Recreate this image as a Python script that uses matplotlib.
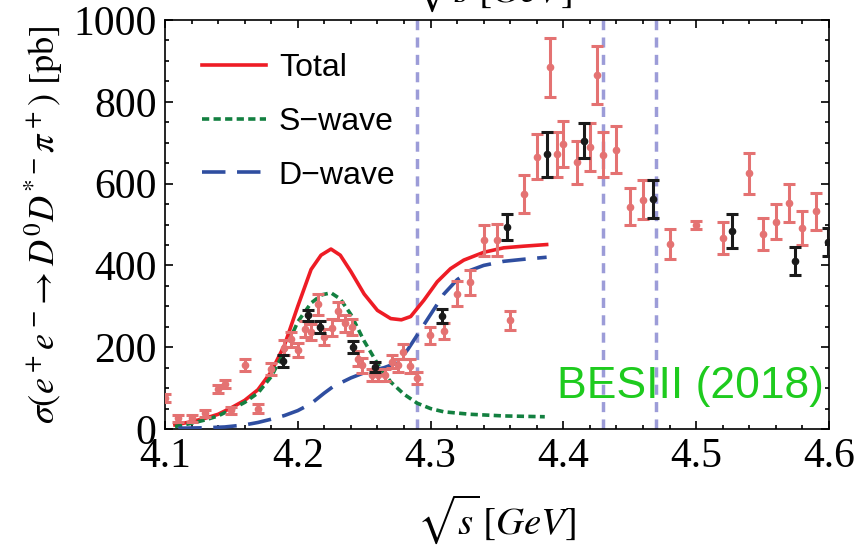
import matplotlib
matplotlib.use('Agg')
import matplotlib.pyplot as plt
from matplotlib.lines import Line2D
from matplotlib.ticker import MultipleLocator

plt.rcParams['mathtext.fontset'] = 'stix'

# BESIII scan points (red) : sqrt(s), sigma, error
scan_x = [4.100, 4.110, 4.120, 4.130, 4.140, 4.145, 4.150, 4.160, 4.170, 4.180,
          4.190, 4.195, 4.200, 4.2055, 4.210, 4.2155, 4.220, 4.2255, 4.230, 4.2356,
          4.2406, 4.2455, 4.248, 4.2556, 4.2606, 4.2657, 4.2707, 4.2757, 4.2795, 4.2845,
          4.2895, 4.2995, 4.310, 4.320, 4.330, 4.340, 4.350, 4.3598, 4.370, 4.380,
          4.390, 4.395, 4.400, 4.410, 4.420, 4.425, 4.430, 4.440, 4.450, 4.460,
          4.480, 4.500, 4.520, 4.540, 4.550, 4.560, 4.570, 4.580, 4.590]
scan_y = [75, 26, 26, 38, 97, 111, 46, 156, 50, 147,
          199, 219, 193, 244, 237, 305, 225, 248, 288, 258,
          250, 172, 156, 132, 132, 132, 164, 156, 189, 154,
          124, 229, 239, 331, 359, 461, 463, 266, 575, 666,
          885, 672, 697, 652, 689, 866, 671, 683, 544, 561,
          453, 498, 468, 625, 476, 507, 552, 491, 532]
scan_err = [10, 8, 8, 9, 10, 10, 9, 14, 10, 15,
            18, 18, 17, 20, 20, 26, 20, 20, 22, 20,
            20, 18, 18, 15, 15, 15, 16, 16, 18, 16,
            15, 20, 20, 30, 31, 39, 39, 23, 47, 55,
            72, 55, 57, 53, 58, 71, 56, 57, 45, 47,
            37, 10, 39, 50, 39, 42, 46, 41, 45]

# BESIII high-luminosity points (black)
xyz_x = [4.1886, 4.2080, 4.2171, 4.2417, 4.2580, 4.3083, 4.3578, 4.3874, 4.4155,
         4.4673, 4.5272, 4.5744, 4.5995]
xyz_y = [166, 278, 250, 201, 152, 276, 493, 672, 705, 563, 484, 410, 457]
xyz_err = [14, 14, 15, 14, 13, 18, 32, 55, 43, 46, 41, 34, 35]

# model curves
total_x = [4.1075, 4.120, 4.130, 4.140, 4.150, 4.160, 4.170, 4.180, 4.190, 4.200,
           4.210, 4.2175, 4.225, 4.232, 4.240, 4.250, 4.260, 4.270, 4.278, 4.285,
           4.295, 4.305, 4.315, 4.325, 4.340, 4.355, 4.370, 4.3874]
total_y = [10, 18, 26, 36, 52, 70, 96, 140, 205, 300,
           390, 425, 440, 425, 385, 330, 290, 270, 267, 275,
           315, 360, 392, 413, 432, 443, 447, 451]
swave_x = [4.1075, 4.120, 4.130, 4.140, 4.150, 4.160, 4.170, 4.180, 4.190, 4.200,
           4.210, 4.218, 4.225, 4.232, 4.240, 4.250, 4.260, 4.270, 4.280, 4.290,
           4.300, 4.310, 4.330, 4.355, 4.386]
swave_y = [6, 14, 22, 32, 48, 65, 88, 128, 190, 262,
           308, 328, 333, 318, 280, 215, 160, 115, 85, 63,
           50, 42, 36, 32, 30]
dwave_x = [4.110, 4.130, 4.145, 4.160, 4.170, 4.180, 4.190, 4.200, 4.210, 4.220,
           4.2267, 4.240, 4.2519, 4.265, 4.275, 4.283, 4.290, 4.300, 4.310, 4.320,
           4.330, 4.340, 4.355, 4.370, 4.3874]
dwave_y = [2, 3, 5, 10, 16, 24, 33, 45, 62, 88,
           104, 125, 140, 150, 162, 195, 230, 280, 330, 365,
           388, 400, 410, 415, 420]

thresholds = [4.29, 4.43, 4.47]

fig = plt.figure(figsize=(8.57, 5.47), dpi=100)
ax = fig.add_axes([0.1925, 0.2157, 0.7748, 0.7477])

for t in thresholds:
    ax.axvline(t, color='#9c9cd8', lw=2.5, ls=(0, (2.9, 2.1)), zorder=1)

ax.plot(total_x, total_y, color='#ee1c25', lw=2.6, zorder=3)
ax.plot(swave_x, swave_y, color='#138040', lw=2.6, ls=(0, (2, 1.2)), zorder=3)
ax.plot(dwave_x, dwave_y, color='#2f4ea0', lw=2.6, ls=(0, (6.5, 3.2)), zorder=3)

ax.errorbar(scan_x, scan_y, yerr=scan_err, fmt='o', color='#e47272', ms=4.5,
            elinewidth=2.2, capsize=4.5, capthick=2.2, zorder=4)
ax.errorbar(xyz_x, xyz_y, yerr=xyz_err, fmt='o', color='#1a1a1a', ms=4.5,
            elinewidth=2.2, capsize=4.5, capthick=2.2, zorder=5)

ax.set_xlim(4.1, 4.6)
ax.set_ylim(0, 1000)
ax.xaxis.set_major_locator(MultipleLocator(0.1))
ax.xaxis.set_minor_locator(MultipleLocator(0.02))
ax.yaxis.set_major_locator(MultipleLocator(200))
ax.yaxis.set_minor_locator(MultipleLocator(50))
ax.tick_params(which='both', direction='in', top=True, right=True, width=1.2)
ax.tick_params(which='major', length=6, pad=6, labelsize=30)
ax.tick_params(which='minor', length=3)
for lab in ax.get_xticklabels() + ax.get_yticklabels():
    lab.set_fontfamily('Liberation Serif')
for s in ax.spines.values():
    s.set_linewidth(1.2)

ax.set_xlabel(r'$\sqrt{s}\,[GeV]$', fontsize=28, labelpad=12)
ax.set_ylabel(r'$\sigma(e^+e^-\!\rightarrow D^0D^{*-}\pi^+)\ \mathrm{[pb]}$', fontsize=26, labelpad=6)
# top axis label, cut off by the figure edge
fig.text(0.575, 0.975, r'$\sqrt{s}\,[GeV]$', fontsize=28, ha='center', va='bottom')

ax.text(0.993, 0.105, 'BESIII (2018)', transform=ax.transAxes, ha='right', va='center',
        color='#1ecb1e', fontsize=32, family='Liberation Sans')

handles = [Line2D([0], [0], color='#ee1c25', lw=2.6),
           Line2D([0], [0], color='#138040', lw=2.6, ls=(0, (2, 1.2))),
           Line2D([0], [0], color='#2f4ea0', lw=2.6, ls=(0, (6.5, 3.2)))]
ax.legend(handles, ['Total', 'S\u2212wave', 'D\u2212wave'], loc='upper left',
          bbox_to_anchor=(0.056, 0.92), frameon=False, handlelength=2.0,
          handletextpad=0.4, borderpad=0, borderaxespad=0,
          labelspacing=0.75, prop={'family': 'Liberation Sans', 'size': 23})

fig.savefig('out.png', dpi=100)
